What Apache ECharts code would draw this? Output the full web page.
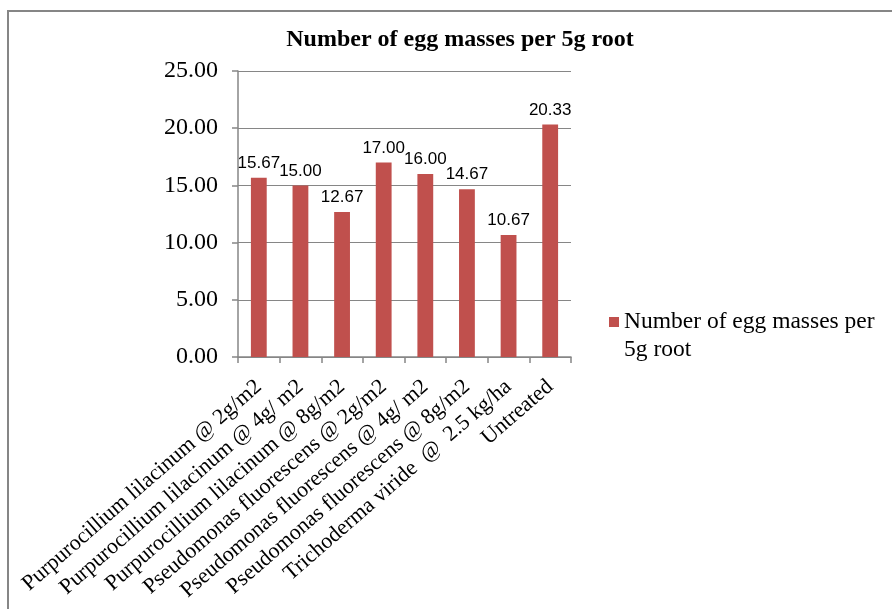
<!DOCTYPE html>
<html>
<head>
<meta charset="utf-8">
<script src="https://cdn.jsdelivr.net/npm/echarts@6/dist/echarts.min.js"></script>
<style>
  html, body { margin: 0; padding: 0; background: #ffffff; }
  #chart { width: 892px; height: 609px; }
</style>
</head>
<body>
<div id="chart"></div>
<script>
// Treatments along the x axis
const categories = [
  'Purpurocillium lilacinum @ 2g/m2',
  'Purpurocillium lilacinum @ 4g/ m2',
  'Purpurocillium lilacinum @ 8g/m2',
  'Pseudomonas fluorescens @ 2g/m2',
  'Pseudomonas fluorescens @ 4g/ m2',
  'Pseudomonas fluorescens @ 8g/m2',
  'Trichoderma viride  @  2.5 kg/ha',
  'Untreated'
];

// Mean egg masses per 5 g of root for each treatment
const eggMasses = [15.67, 15.00, 12.67, 17.00, 16.00, 14.67, 10.67, 20.33];

const seriesName = 'Number of egg masses per 5g root';
const chartTitle = 'Number of egg masses per 5g root';

const serif = '"Liberation Serif", "Times New Roman", serif';
const sans = '"Liberation Sans", Arial, sans-serif';
const axisGray = '#868686';

const chart = echarts.init(document.getElementById('chart'), null, { renderer: 'canvas' });

chart.setOption({
  backgroundColor: '#ffffff',
  animation: false,
  title: {
    text: chartTitle,
    left: 455,
    top: 23,
    textAlign: 'center',
    textStyle: { fontFamily: serif, fontWeight: 'bold', fontSize: 24, color: '#000000' }
  },
  graphic: [{
    type: 'rect',
    shape: { x: 8, y: 11, width: 900, height: 700 },
    style: { fill: 'none', stroke: axisGray, lineWidth: 2 },
    silent: true
  }],
  legend: {
    data: [seriesName],
    left: 604,
    top: 275,
    icon: 'rect',
    itemWidth: 10,
    itemHeight: 10,
    itemGap: 4,
    // leading empty line keeps the swatch level with the first text line
    formatter: () => ' \nNumber of egg masses per\n5g root',
    textStyle: {
      fontFamily: serif,
      fontSize: 23.5,
      lineHeight: 28,
      color: '#000000'
    }
  },
  grid: {
    left: 238, right: 321, top: 71, bottom: 252,
    containLabel: false,
    outerBoundsMode: 'none'
  },
  xAxis: {
    type: 'category',
    data: categories,
    axisLine: { lineStyle: { color: axisGray, width: 1.5 } },
    axisTick: { show: true, alignWithLabel: false, length: 6, lineStyle: { color: axisGray, width: 1.5 } },
    axisLabel: {
      interval: 0,
      rotate: 41,
      margin: 27,
      fontFamily: serif,
      fontSize: 22,
      color: '#000000'
    }
  },
  yAxis: {
    type: 'value',
    min: 0,
    max: 25,
    interval: 5,
    axisLine: { show: true, lineStyle: { color: axisGray, width: 1.5 } },
    axisTick: { show: true, length: 6, lineStyle: { color: axisGray, width: 1.5 } },
    splitLine: { show: true, lineStyle: { color: axisGray, width: 1 } },
    axisLabel: {
      margin: 20,
      fontFamily: serif,
      fontSize: 24,
      color: '#000000',
      formatter: v => v.toFixed(2)
    }
  },
  series: [{
    name: seriesName,
    type: 'bar',
    data: eggMasses,
    barWidth: '38%',
    itemStyle: { color: '#C0504D' },
    label: {
      show: true,
      position: 'top',
      distance: 6,
      fontFamily: sans,
      fontSize: 17,
      color: '#000000',
      formatter: p => p.value.toFixed(2)
    }
  }]
});
</script>
</body>
</html>
